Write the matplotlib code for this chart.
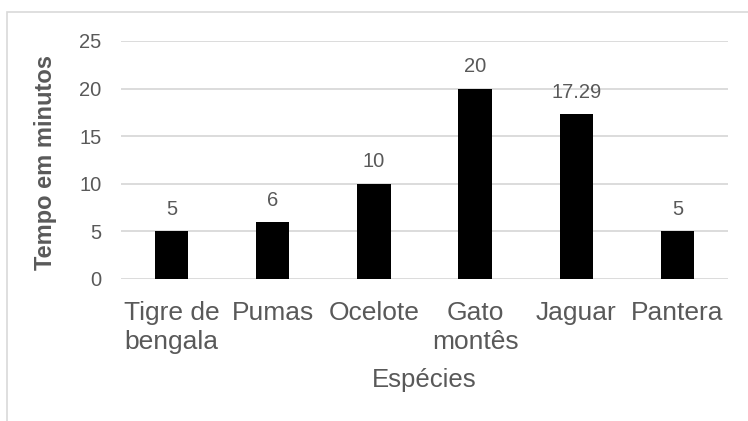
import matplotlib.pyplot as plt
from matplotlib.patches import Rectangle

especies = ["Tigre de\nbengala", "Pumas", "Ocelote", "Gato\nmontês", "Jaguar", "Pantera"]
tempos = [5, 6, 10, 20, 17.29, 5]
rotulos = ["5", "6", "10", "20", "17.29", "5"]
yticks = [0, 5, 10, 15, 20, 25]

plt.rcParams['font.family'] = ['Liberation Sans', 'DejaVu Sans']
cinza = '#595959'

fig = plt.figure(figsize=(7.48, 4.21), dpi=100)
# borda do grafico (estilo Excel)
fig.patches.append(Rectangle((7/748, -0.1), 1.2, (421-12)/421 + 0.1, transform=fig.transFigure,
                             fill=False, edgecolor='#d9d9d9', linewidth=1.2))

ax = fig.add_axes([121/748, 1-279/421, (728-121)/748, (279-41)/421])
x = range(len(especies))
ax.bar(x, tempos, width=0.33, color='black', zorder=3)
for i in x:
    ax.text(i, tempos[i] + 1.3, rotulos[i], ha='center', va='bottom', fontsize=14.5, color=cinza)

ax.set_xlim(-0.5, len(especies) - 0.5)
ax.set_ylim(0, 25)
ax.set_yticks(yticks)
ax.set_xticks(list(x))
ax.set_xticklabels(especies, fontsize=19, color=cinza, linespacing=1.25)
ax.tick_params(axis='y', labelsize=14.5, colors=cinza, length=0, pad=14)
ax.tick_params(axis='x', length=0, pad=16)
for lbl in ax.get_xticklabels():
    lbl.set_horizontalalignment('center')
ax.grid(axis='y', color='#d9d9d9', linewidth=1.3, zorder=0)
for s in ax.spines.values():
    s.set_visible(False)

ax.set_xlabel("Espécies", fontsize=18.5, color=cinza, va='center')
ax.xaxis.set_label_coords(0.5, (279-380)/238)
ax.set_ylabel("Tempo em minutos", fontsize=17, fontweight='bold', color=cinza, va='center')
ax.yaxis.set_label_coords((46-121)/607, 0.49)

fig.savefig("out.png", dpi=100)
